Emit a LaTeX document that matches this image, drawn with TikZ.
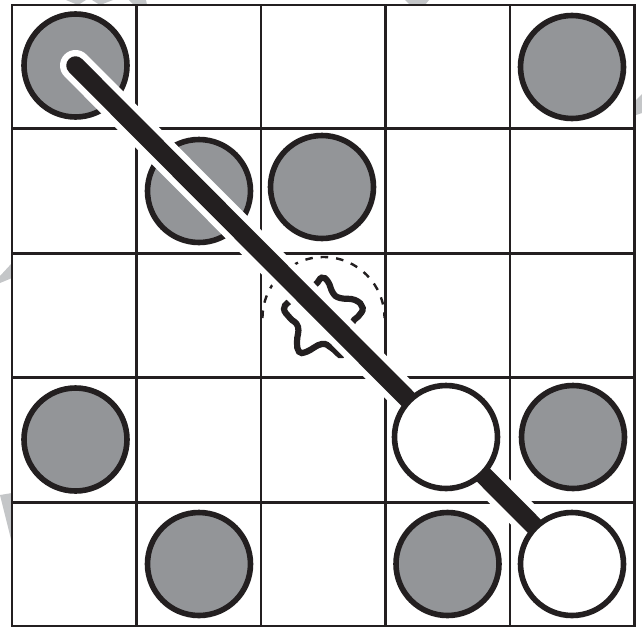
\documentclass[tikz,border=0pt]{standalone}
\definecolor{ink}{HTML}{231F20}
\definecolor{stone}{HTML}{939598}
\definecolor{mark}{HTML}{C4C6C8}
\tikzset{
  px/.style={x=1pt,y=-1pt},
  gridline/.style={draw=ink,line width=2.9pt,line cap=rect},
  stone/.style={circle,draw=ink,fill=stone,line width=5.6pt,minimum size=103pt,inner sep=0pt,outer sep=0pt},
  openstone/.style={stone,fill=white},
  halo/.style={draw=white,line width=31pt,line cap=round},
  bar/.style={draw=ink,line width=18.5pt,line cap=round},
  squiggle/.style={draw=ink,line width=6.2pt},
  backmark/.style={fill=mark,draw=none}
}
\begin{document}
\begin{tikzpicture}[px]
\useasboundingbox (0,0) rectangle (642,627);
\fill[white] (0,0) rectangle (642,627);
% faint marks behind the board
\fill[backmark] (66,0) -- (78,5) -- (86,0) -- cycle;
\fill[backmark] (92,0) -- (100,5) -- (113,0) -- cycle;
\fill[backmark] (129,0) -- (134,5) -- (147,5) -- (146,0) -- cycle;
\fill[backmark] (405,0) -- (410,5) -- (425,5) -- (429,0) -- cycle;
\fill[backmark] (0,276) -- (12,263) -- (12,278) -- (0,283) -- cycle;
\fill[backmark] (0,495) -- (12,493) -- (12,543) -- cycle;
\fill[backmark] (636,100) -- (642,94) -- (642,113) -- (636,115) -- cycle;
% board
\draw[gridline] (12,5) rectangle (634.5,626);
\foreach \gx in {136.5,261,385.7,510} \draw[gridline,line cap=butt] (\gx,5) -- (\gx,626);
\foreach \gy in {128.5,253.3,377.5,502.7} \draw[gridline,line cap=butt] (12,\gy) -- (634.5,\gy);
% stones
\node[stone] (s1) at (75.5,65.5) {};
\node[stone] (s2) at (199,191) {};
\node[stone] (s3) at (322,187) {};
\node[stone] (s4) at (572,67) {};
\node[stone] (s5) at (75.5,439.5) {};
\node[stone] (s6) at (573,437) {};
\node[stone] (s7) at (199,564) {};
\node[stone] (s8) at (447.5,564) {};
% dashed arc and squiggle
\coordinate (arcstart) at (262.5,318);
\draw[draw=ink,line width=2.4pt,dash pattern=on 7.5pt off 8pt] (arcstart) arc[start angle=180,end angle=360,radius=61];
\draw[squiggle] plot[smooth cycle,tension=0.75] coordinates {
 (315,285) (321.7,277.7) (328,281.7) (333,293) (340,298) (355,300) (362.7,308) (358,316.7)
 (352.7,322) (345,340) (341.7,355) (331.7,348) (321.7,344) (306.7,351.7) (299,351.7) (297,341.7) (298,326.7)
 (290,318) (284,309) (289,301.7) (302,292)};
% connector
\coordinate (barstart) at (75.5,65.5);
\coordinate (barend) at (572,564);
\draw[halo] (barstart) -- (barend);
\draw[bar] (barstart) -- (barend);
\node[openstone] (w1) at (446,437) {};
\node[openstone] (w2) at (572,564) {};
\end{tikzpicture}
\end{document}
